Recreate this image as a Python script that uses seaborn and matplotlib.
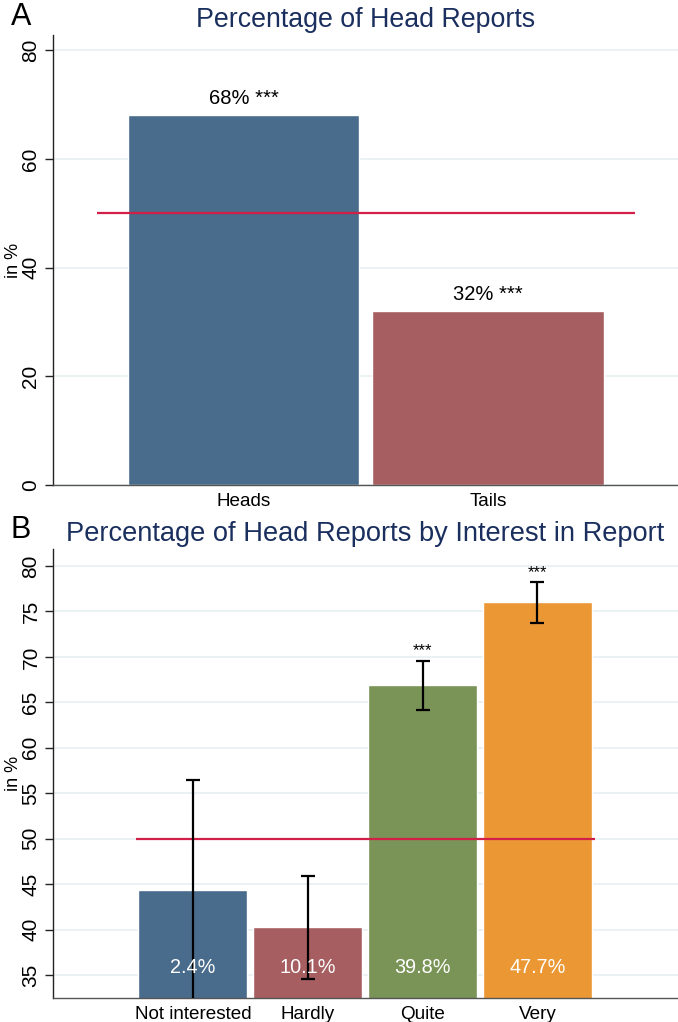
import seaborn as sns
import matplotlib.pyplot as plt

# panel A data
coin_sides = ["Heads", "Tails"]
coin_pct = [68, 32]
coin_labels = ["68% ***", "32% ***"]

# panel B data
interest = ["Not interested", "Hardly", "Quite", "Very"]
interest_pct = [44.4, 40.3, 66.9, 76.0]
ci_low = [32.0, 34.6, 64.2, 73.7]
ci_high = [56.5, 45.9, 69.6, 78.2]
stars = ["", "", "***", "***"]
share_labels = ["2.4%", "10.1%", "39.8%", "47.7%"]

ref_value = 50

colors_a = ["#496c8c", "#a65e61"]
colors_b = ["#496c8c", "#a65e61", "#7a9356", "#ea9734"]

sns.set_style("white")
plt.rcParams['font.family'] = ['Liberation Sans', 'DejaVu Sans']
plt.rcParams['text.color'] = 'black'
plt.rcParams['axes.labelcolor'] = 'black'
plt.rcParams['xtick.color'] = 'black'
plt.rcParams['ytick.color'] = 'black'

fig = plt.figure(figsize=(6.78, 10.22), dpi=100)
ax1 = fig.add_axes([0.078, 0.5254, 0.922, 0.4403])
ax2 = fig.add_axes([0.078, 0.0235, 0.922, 0.4393])

title_color = "#1a2f5e"
grid_color = "#e8f0f2"
red = "#d21f47"


def style_axis(ax):
    for s in ["top", "right"]:
        ax.spines[s].set_visible(False)
    ax.spines["left"].set_color("#222222")
    ax.spines["bottom"].set_color("#555555")
    ax.spines["left"].set_linewidth(1.0)
    ax.spines["bottom"].set_linewidth(1.0)
    ax.yaxis.grid(True, color=grid_color, linewidth=1.2)
    ax.set_axisbelow(True)
    ax.tick_params(axis="y", direction="out", length=6, width=1, color="#222222",
                   labelsize=15, left=True, pad=3)
    ax.tick_params(axis="x", length=0, labelsize=13.6, pad=6)
    for lab in ax.get_yticklabels():
        lab.set_rotation(90)
        lab.set_va("center")
    ax.set_xlabel("")
    ax.set_ylabel("in %", fontsize=13)
    ax.yaxis.set_label_coords(-0.05, 0.5)


# ---- Panel A
sns.barplot(x=coin_sides, y=coin_pct, hue=coin_sides, palette=colors_a,
            width=0.945, ax=ax1, legend=False, saturation=1)
ax1.set_xlim(-0.779, 1.777)
ax1.set_ylim(0, 82.8)
ax1.set_yticks([0, 20, 40, 60, 80])
style_axis(ax1)
ax1.hlines(ref_value, -0.6, 1.6, color=red, linewidth=1.6, zorder=3)
for i, (v, t) in enumerate(zip(coin_pct, coin_labels)):
    ax1.text(i, v + 1.3, t, ha="center", va="bottom", fontsize=14.5)
ax1.set_title("Percentage of Head Reports", fontsize=19.3, color=title_color, pad=6)
fig.text(0.016, 0.983, "A", fontsize=22, ha="left", va="center")

# ---- Panel B
sns.barplot(x=interest, y=interest_pct, hue=interest, palette=colors_b,
            width=0.95, ax=ax2, legend=False, saturation=1)
ax2.set_xlim(-1.22, 4.225)
ax2.set_ylim(32.47, 81.87)
ax2.set_yticks(range(35, 81, 5))
style_axis(ax2)
ax2.hlines(ref_value, -0.5, 3.5, color=red, linewidth=1.6, zorder=3)
ax2.errorbar(range(len(interest)), interest_pct,
             yerr=[[m - lo for m, lo in zip(interest_pct, ci_low)],
                   [hi - m for m, hi in zip(interest_pct, ci_high)]],
             fmt="none", ecolor="black", elinewidth=1.6, capsize=5, capthick=1.6,
             zorder=4)
for i, (hi, s, lab) in enumerate(zip(ci_high, stars, share_labels)):
    if s:
        ax2.text(i, hi + 0.3, s, ha="center", va="bottom", fontsize=12)
    ax2.text(i, 35.8, lab, ha="center", va="center", fontsize=14.3, color="white",
             zorder=5)
ax2.set_title("Percentage of Head Reports by Interest in Report", fontsize=19.6,
              color=title_color, pad=6)
fig.text(0.016, 0.4814, "B", fontsize=22, ha="left", va="center")

fig.savefig("out.png", dpi=100)
